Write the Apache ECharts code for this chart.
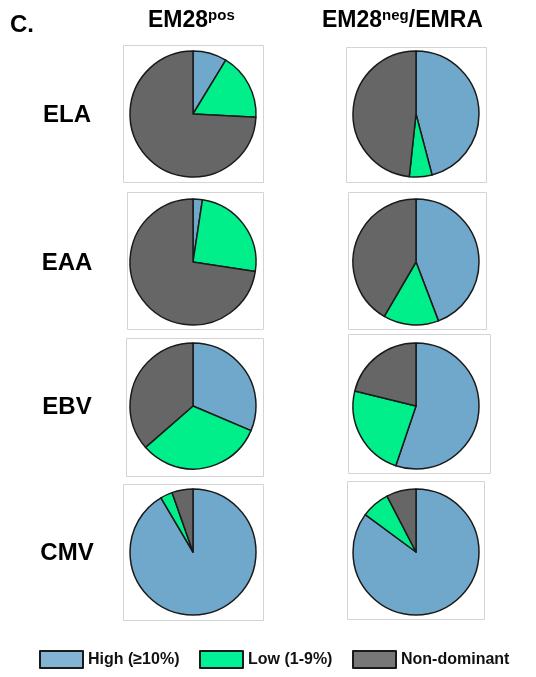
<!DOCTYPE html>
<html>
<head>
<meta charset="utf-8">
<script src="https://cdn.jsdelivr.net/npm/echarts@6/dist/echarts.min.js"></script>
<style>
  html, body { margin: 0; padding: 0; background: #ffffff; }
  #chart { width: 536px; height: 677px; }
</style>
</head>
<body>
<div id="chart"></div>
<script>
// Antigen-specific clonotype dominance per memory subset
const antigens = ['ELA', 'EAA', 'EBV', 'CMV'];
const sliceNames = ['High (≥10%)', 'Low (1-9%)', 'Non-dominant'];

// EM28pos subset (% of repertoire)
const em28posHigh = [8.7, 2.4, 31.4, 91.5];
const em28posLow = [17.1, 25.0, 32.2, 3.1];
const em28posNonDominant = [74.2, 72.6, 36.4, 5.4];

// EM28neg/EMRA subset (% of repertoire)
const em28negHigh = [45.9, 44.2, 55.2, 85.1];
const em28negLow = [5.8, 14.2, 23.6, 7.3];
const em28negNonDominant = [48.3, 41.6, 21.2, 7.6];

const sliceColors = ['#6fa8cb', '#00ef8a', '#666666'];
const legendColors = ['#84b4d3', '#00f196', '#777777'];

// layout
const colX = [193, 416];
const rowY = [114, 262, 406, 552];
const pieRadius = 63;
const panelBoxes = [
  [[123, 45, 140, 137], [346, 47, 140, 135]],
  [[127, 192, 136, 137], [348, 192, 138, 137]],
  [[126, 338, 137, 138], [348, 334, 142, 139]],
  [[123, 484, 140, 136], [347, 481, 137, 138]]
];
const legendLeft = [39, 199, 352];

const subsets = [
  [em28posHigh, em28posLow, em28posNonDominant],
  [em28negHigh, em28negLow, em28negNonDominant]
];

const series = [];
const graphics = [];

antigens.forEach((ag, r) => {
  subsets.forEach((sub, c) => {
    const b = panelBoxes[r][c];
    graphics.push({
      type: 'rect', silent: true, z: 0,
      shape: { x: b[0] + 0.5, y: b[1] + 0.5, width: b[2], height: b[3] },
      style: { fill: '#ffffff', stroke: '#d4d4d4', lineWidth: 1 }
    });
    series.push({
      type: 'pie',
      name: ag + '-' + c,
      center: [colX[c], rowY[r]],
      radius: pieRadius,
      startAngle: 90,
      clockwise: true,
      animation: false,
      silent: true,
      z: 2,
      label: { show: false },
      labelLine: { show: false },
      emphasis: { disabled: true },
      itemStyle: { borderColor: '#1a1a1a', borderWidth: 1.5 },
      data: sliceNames.map((n, k) => ({
        name: n,
        value: sub[k][r],
        itemStyle: { color: sliceColors[k] }
      }))
    });
  });
  graphics.push({
    type: 'text', silent: true,
    x: 67, y: rowY[r] + 1,
    style: {
      text: ag, fill: '#000000',
      font: 'bold 24px Arial, "Liberation Sans", sans-serif',
      align: 'center', verticalAlign: 'middle'
    }
  });
});

// panel letter and column headings
graphics.push({
  type: 'text', silent: true, x: 10, y: 25,
  style: {
    text: 'C.', fill: '#000000',
    font: 'bold 24px Arial, "Liberation Sans", sans-serif',
    align: 'left', verticalAlign: 'middle'
  }
});

const headRich = {
  m: { fontSize: 23, fontWeight: 'bold', fontFamily: 'Arial, "Liberation Sans", sans-serif', lineHeight: 26, fill: '#000' },
  s: { fontSize: 15, fontWeight: 'bold', fontFamily: 'Arial, "Liberation Sans", sans-serif', lineHeight: 19, verticalAlign: 'top', fill: '#000' }
};
graphics.push({
  type: 'text', silent: true, x: 148, y: 8,
  style: { text: '{m|EM28}{s|pos}', rich: headRich, align: 'left', verticalAlign: 'top' }
});
graphics.push({
  type: 'text', silent: true, x: 322, y: 8,
  style: { text: '{m|EM28}{s|neg}{m|/EMRA}', rich: headRich, align: 'left', verticalAlign: 'top' }
});

// one legend block per category so each key sits at its own spot
const legends = sliceNames.map((n, k) => ({
  left: legendLeft[k], top: 650,
  padding: 0,
  itemWidth: 43, itemHeight: 17,
  itemGap: 5,
  icon: 'rect',
  selectedMode: false,
  itemStyle: { borderColor: '#1a1a1a', borderWidth: 2 },
  textStyle: {
    fontSize: 16, fontWeight: 'bold', color: '#111111',
    fontFamily: 'Arial, "Liberation Sans", sans-serif'
  },
  data: [{ name: n, itemStyle: { color: legendColors[k] } }]
}));

const option = {
  backgroundColor: '#ffffff',
  animation: false,
  legend: legends,
  graphic: graphics,
  series: series
};

const chart = echarts.init(document.getElementById('chart'), null, { renderer: 'canvas' });
chart.setOption(option);
</script>
</body>
</html>
